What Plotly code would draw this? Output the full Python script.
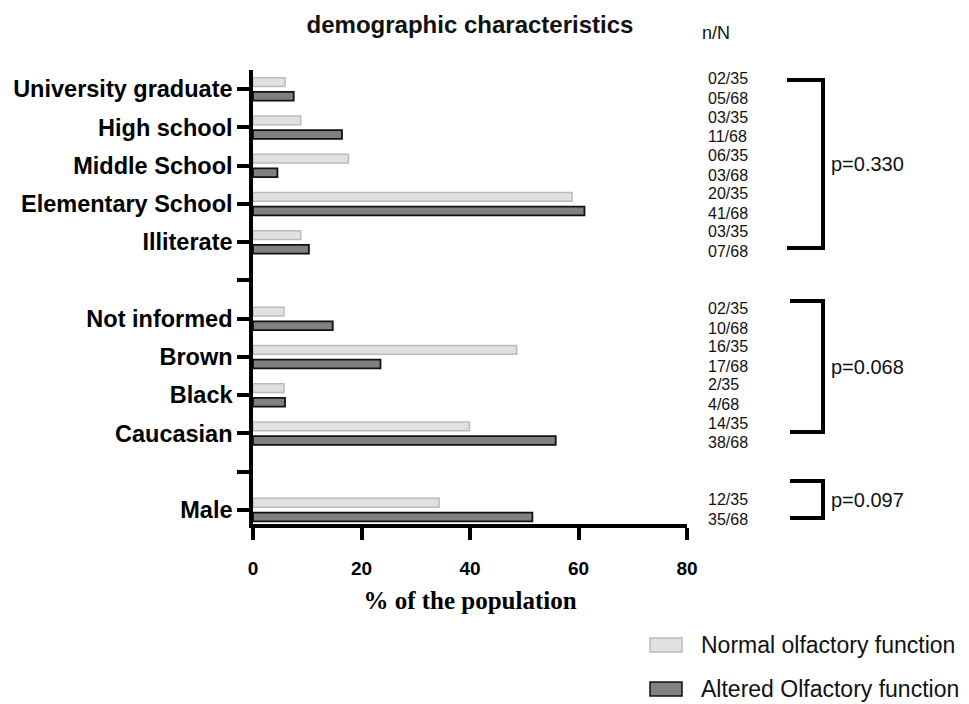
import plotly.graph_objects as go

# ---------------- data ----------------
categories = ["Male", "", "Caucasian", "Black", "Brown", "Not informed", "",
              "Illiterate", "Elementary School", "Middle School", "High school",
              "University graduate"]
normal_pct = [34.3, None, 39.9, 5.7, 48.6, 5.7, None, 8.8, 58.8, 17.6, 8.8, 5.9]
altered_pct = [51.5, None, 55.8, 5.9, 23.5, 14.7, None, 10.3, 61.1, 4.5, 16.4, 7.5]
normal_nN = ["12/35", "", "14/35", "2/35", "16/35", "02/35", "",
             "03/35", "20/35", "06/35", "03/35", "02/35"]
altered_nN = ["35/68", "", "38/68", "4/68", "17/68", "10/68", "",
              "07/68", "41/68", "03/68", "11/68", "05/68"]
x_ticks = [0, 20, 40, 60, 80]
p_labels = ["p=0.330", "p=0.068", "p=0.097"]
series_names = ["Normal olfactory function", "Altered Olfactory function"]

# ---------------- layout constants (reference-pixel coordinates) ----------------
OFF = 8                      # page body margin in the browser
W, H = 969 - OFF, 704 - OFF
PLOT_X0, PLOT_X1 = 253, 687
PLOT_Y0, PLOT_Y1 = 70, 524
L, T = PLOT_X0 - OFF, PLOT_Y0 - OFF
R, B = W - (PLOT_X1 - OFF), H - (PLOT_Y1 - OFF)
plot_w = PLOT_X1 - PLOT_X0
plot_h = PLOT_Y1 - PLOT_Y0
Y_MIN, Y_MAX = -0.37, 11.5


def px_x(px):
    return (px - PLOT_X0) / plot_w


def px_y(py):
    return 1 - (py - PLOT_Y0) / plot_h


# bracket geometry: (left px, right px, top px, bottom px)
brackets = [(787, 823, 80, 248), (790, 823, 301, 432), (790, 823, 481, 518)]

pos = list(range(len(categories)))
LIGHT_FILL, LIGHT_LINE = "#e0e1e0", "#bababa"
DARK_FILL, DARK_LINE = "#808080", "#111111"

fig = go.Figure()
fig.add_trace(go.Bar(
    y=pos, x=normal_pct, orientation="h", name=series_names[0],
    width=0.23, offset=0.07,
    marker=dict(color=LIGHT_FILL, line=dict(color=LIGHT_LINE, width=1.5)),
    showlegend=False))
fig.add_trace(go.Bar(
    y=pos, x=altered_pct, orientation="h", name=series_names[1],
    width=0.23, offset=-0.30,
    marker=dict(color=DARK_FILL, line=dict(color=DARK_LINE, width=1.8)),
    showlegend=False))

annotations = []
annotations.append(dict(text="n/N", xref="paper", yref="paper",
                        x=px_x(700), y=px_y(33), xanchor="left", yanchor="middle",
                        showarrow=False, font=dict(size=18, color="#111")))
for i, (a, b) in enumerate(zip(normal_nN, altered_nN)):
    if a:
        annotations.append(dict(text=a, xref="paper", yref="y", x=px_x(706), y=i + 0.27,
                                xanchor="left", yanchor="middle", showarrow=False,
                                font=dict(size=16, color="#111")))
    if b:
        annotations.append(dict(text=b, xref="paper", yref="y", x=px_x(706), y=i - 0.25,
                                xanchor="left", yanchor="middle", showarrow=False,
                                font=dict(size=16, color="#111")))

shapes = []
for (xl, xr, yt, yb), ptxt in zip(brackets, p_labels):
    for (x0, y0, x1, y1) in [(xl, yt, xr, yt), (xr, yt - 2, xr, yb + 2), (xl, yb, xr, yb)]:
        shapes.append(dict(type="line", xref="paper", yref="paper",
                           x0=px_x(x0), x1=px_x(x1), y0=px_y(y0), y1=px_y(y1),
                           line=dict(color="black", width=4)))
    annotations.append(dict(text=ptxt, xref="paper", yref="paper",
                            x=px_x(829), y=px_y((yt + yb) / 2),
                            xanchor="left", yanchor="middle", showarrow=False,
                            font=dict(size=20, color="#111")))

legend_rows = [(645, LIGHT_FILL, LIGHT_LINE), (689, DARK_FILL, DARK_LINE)]
for (cy, fill, line), name in zip(legend_rows, series_names):
    shapes.append(dict(type="rect", xref="paper", yref="paper",
                       x0=px_x(650), x1=px_x(682), y0=px_y(cy - 7), y1=px_y(cy + 7),
                       fillcolor=fill, line=dict(color=line, width=1.5)))
    annotations.append(dict(text=name, xref="paper", yref="paper",
                            x=px_x(699), y=px_y(cy), xanchor="left", yanchor="middle",
                            showarrow=False, font=dict(size=23, color="#111")))

fig.update_layout(
    width=W, height=H,
    margin=dict(l=L, r=R, t=T, b=B, autoexpand=False),
    paper_bgcolor="white", plot_bgcolor="white",
    barmode="overlay",
    font=dict(family="Arial, Liberation Sans, sans-serif", color="black"),
    title=dict(text="<b>demographic characteristics</b>", x=0.5, xref="paper",
               xanchor="center", y=1 - (25 - OFF) / H, yref="container", yanchor="middle",
               font=dict(size=24, color="#111")),
    xaxis=dict(range=[0, 80], tickvals=x_ticks, ticktext=[f"<b>{v}</b>" for v in x_ticks],
               showgrid=False, zeroline=False, showline=True, linecolor="black",
               linewidth=3.5, ticks="outside", ticklen=12, tickwidth=3.5,
               tickcolor="black", tickfont=dict(size=19), ticklabelstandoff=12,
               title=dict(text="<b>% of the population</b>", standoff=15,
                          font=dict(size=25, family="Times New Roman, Liberation Serif, serif"))),
    yaxis=dict(range=[Y_MIN, Y_MAX], tickvals=pos,
               ticktext=[f"<b>{c}</b>" if c else "" for c in categories],
               showgrid=False, zeroline=False, showline=True, linecolor="black",
               linewidth=3.5, ticks="outside", ticklen=12, tickwidth=3.5,
               tickcolor="black", tickfont=dict(size=23.5), ticklabelstandoff=0),
    shapes=shapes,
    annotations=annotations,
)

fig.write_html("out.html")
